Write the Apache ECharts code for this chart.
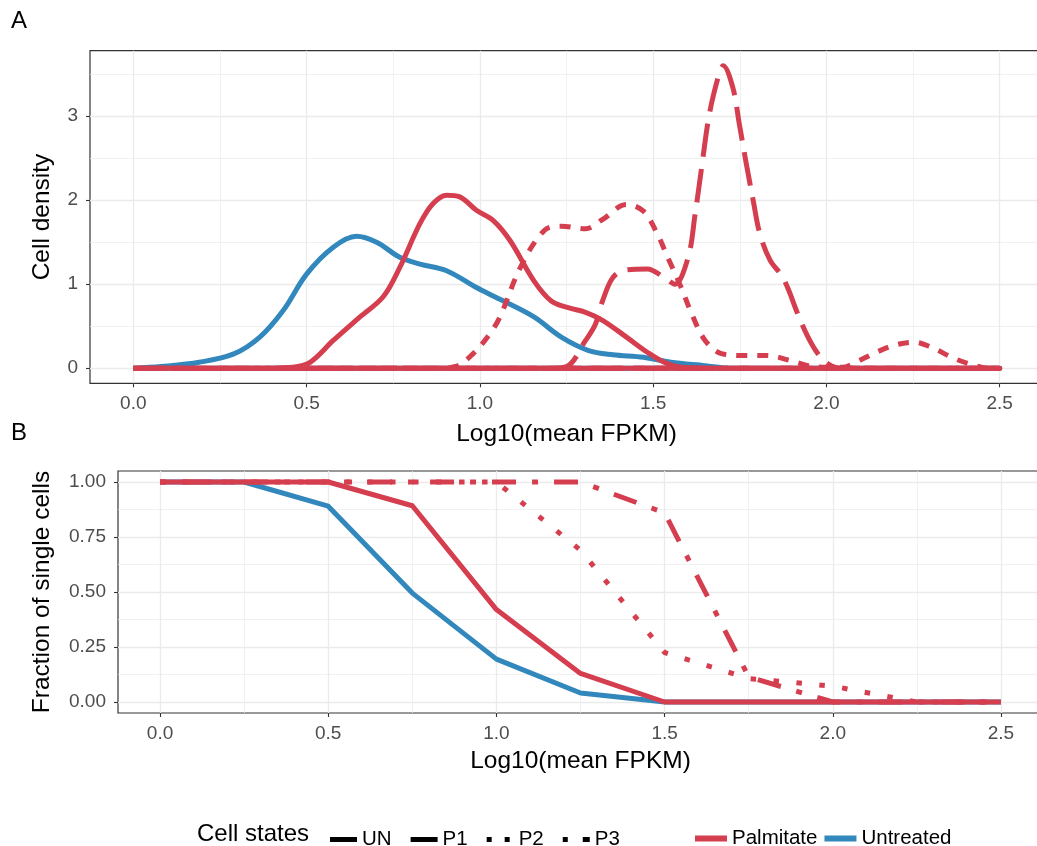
<!DOCTYPE html>
<html>
<head>
<meta charset="utf-8">
<script src="https://cdn.jsdelivr.net/npm/echarts@6/dist/echarts.min.js"></script>
<style>
  html, body { margin: 0; padding: 0; background: #ffffff; }
  #chart { width: 1037px; height: 846px; }
</style>
</head>
<body>
<div id="chart"></div>
<script>
// ---- Panel A: density of cells over log10(mean FPKM), per cell state ----
const densUntreatedUNx = [0, 0.08, 0.19, 0.29, 0.365, 0.433, 0.50, 0.577, 0.644, 0.702, 0.769, 0.827, 0.904, 0.99, 1.058, 1.156, 1.235, 1.314, 1.384, 1.472, 1.551, 1.65, 1.72, 1.8, 2.5];
const densUntreatedUNy = [0, 0.02, 0.07, 0.17, 0.37, 0.69, 1.12, 1.44, 1.57, 1.50, 1.32, 1.24, 1.16, 0.96, 0.82, 0.61, 0.37, 0.21, 0.16, 0.13, 0.07, 0.03, 0, 0, 0];

const densPalmitateP1x = [0, 0.40, 0.46, 0.51, 0.577, 0.654, 0.721, 0.769, 0.827, 0.865, 0.904, 0.942, 0.99, 1.038, 1.087, 1.156, 1.206, 1.255, 1.305, 1.354, 1.423, 1.483, 1.532, 1.581, 1.65, 2.5];
const densPalmitateP1y = [0, 0, 0.01, 0.07, 0.33, 0.61, 0.85, 1.20, 1.72, 1.96, 2.06, 2.04, 1.88, 1.76, 1.52, 1.04, 0.80, 0.72, 0.665, 0.57, 0.37, 0.19, 0.07, 0.01, 0, 0];

const densPalmitateP2x = [0, 0.88, 0.93, 0.98, 1.029, 1.058, 1.117, 1.186, 1.235, 1.305, 1.354, 1.423, 1.472, 1.512, 1.542, 1.581, 1.611, 1.65, 1.70, 1.769, 1.828, 1.897, 1.947, 2.0, 2.046, 2.075, 2.134, 2.194, 2.253, 2.302, 2.372, 2.431, 2.47, 2.5];
const densPalmitateP2y = [0, 0, 0.02, 0.17, 0.41, 0.61, 1.20, 1.64, 1.69, 1.66, 1.77, 1.95, 1.87, 1.60, 1.32, 0.96, 0.65, 0.33, 0.17, 0.15, 0.15, 0.09, 0.03, 0.01, 0.01, 0.05, 0.17, 0.27, 0.31, 0.25, 0.11, 0.03, 0, 0];

const densPalmitateP3x = [0, 1.20, 1.25, 1.305, 1.334, 1.354, 1.384, 1.423, 1.483, 1.532, 1.562, 1.601, 1.621, 1.64, 1.662, 1.69, 1.702, 1.73, 1.749, 1.769, 1.789, 1.808, 1.838, 1.868, 1.888, 1.917, 1.947, 1.976, 2.006, 2.04, 2.5];
const densPalmitateP3y = [0, 0, 0.02, 0.33, 0.53, 0.80, 1.08, 1.17, 1.18, 1.08, 1.00, 1.32, 1.83, 2.39, 3.02, 3.50, 3.60, 3.34, 2.90, 2.43, 1.99, 1.60, 1.28, 1.12, 0.96, 0.65, 0.37, 0.17, 0.05, 0, 0];

// ---- Panel B: fraction of single cells per log10(mean FPKM) bin ----
const fracBins = [0, 0.25, 0.5, 0.75, 1.0, 1.25, 1.5, 1.75, 2.0, 2.25, 2.5];
const fracUntreatedUN = [1, 1, 0.89, 0.495, 0.195, 0.041, 0, 0, 0, 0, 0];
const fracPalmitateP1 = [1, 1, 1, 0.892, 0.42, 0.13, 0, 0, 0, 0, 0];
const fracPalmitateP2 = [1, 1, 1, 1, 1, 0.69, 0.225, 0.107, 0.072, 0, 0];
const fracPalmitateP3 = [1, 1, 1, 1, 1, 1, 0.86, 0.114, 0, 0, 0];

// ---- Tick labels ----
const xMajorTicks = [0, 0.5, 1.0, 1.5, 2.0, 2.5];
const xMinorTicks = [0.25, 0.75, 1.25, 1.75, 2.25];
const densMajorTicks = [0, 1, 2, 3];
const densMinorTicks = [0.5, 1.5, 2.5, 3.5];
const fracMajorTicks = [0, 0.25, 0.5, 0.75, 1.0];
const fracMinorTicks = [0.125, 0.375, 0.625, 0.875];

// ---- Legend entries ----
const stateNames = ['UN', 'P1', 'P2', 'P3'];
const treatmentNames = ['Palmitate', 'Untreated'];

const FONT = '"Liberation Sans", Arial, Helvetica, sans-serif';
const RED = '#D53E4F';
const BLUE = '#3288BD';
const GRID_COL = '#EBEBEB';
const INK = '#333333';
const TICK_TXT = '#4D4D4D';

const pairs = (xs, ys) => xs.map((x, i) => [x, ys[i]]);
// density outline drawn as a closed shape: the curve, then back along the baseline
const outline = (xs, ys) => pairs(xs, ys).concat([[xs[0], 0]]);

function majorAxis(gridIndex, min, max, ticks, fmt, name, nameGap, isY) {
  return {
    type: 'value', gridIndex, min, max,
    position: isY ? 'left' : 'bottom',
    name, nameLocation: 'middle', nameGap,
    nameRotate: isY ? 90 : 0,
    nameTextStyle: { fontFamily: FONT, fontSize: 24.5, color: '#000000' },
    axisLine: { show: false, onZero: false },
    axisTick: { show: true, length: 4, customValues: ticks, lineStyle: { color: INK, width: 1.1 } },
    axisLabel: { show: true, customValues: ticks, formatter: fmt, margin: isY ? 12 : 11,
                 fontFamily: FONT, fontSize: 19, color: TICK_TXT },
    splitLine: { show: true, lineStyle: { color: GRID_COL, width: 1.3 } },
    minorTick: { show: false }, minorSplitLine: { show: false }
  };
}
function minorAxis(gridIndex, min, max, ticks, isY) {
  return {
    type: 'value', gridIndex, min, max,
    position: isY ? 'left' : 'bottom',
    axisLine: { show: false, onZero: false },
    axisTick: { show: false, customValues: ticks },
    axisLabel: { show: false },
    splitLine: { show: true, lineStyle: { color: GRID_COL, width: 0.7 } }
  };
}

const fmt1 = v => v.toFixed(1);
const fmt0 = v => v.toFixed(0);
const fmt2 = v => v.toFixed(2);

function curve(name, xi, yi, data, color, type, smooth) {
  return {
    name, type: 'line', xAxisIndex: xi, yAxisIndex: yi, data,
    smooth: smooth ? 0.35 : false, symbol: 'none', showSymbol: false,
    lineStyle: { color, width: 5, type, cap: 'butt', join: 'round' },
    itemStyle: { color }, silent: true, animation: false
  };
}
function legendOnly(name, color) {
  return { name, type: 'line', data: [], symbol: 'none', itemStyle: { color }, lineStyle: { color } };
}

const option = {
  backgroundColor: '#ffffff',
  animation: false,
  title: [
    { text: 'A', left: 11, top: 9, padding: 0, textStyle: { fontFamily: FONT, fontSize: 24, fontWeight: 'normal', color: '#000' } },
    { text: 'B', left: 11, top: 421, padding: 0, textStyle: { fontFamily: FONT, fontSize: 24, fontWeight: 'normal', color: '#000' } },
    { text: 'Cell states', left: 197, top: 822, padding: 0, textStyle: { fontFamily: FONT, fontSize: 24, fontWeight: 'normal', color: '#000' } }
  ],
  grid: [
    { left: 90, top: 50.7, width: 953, height: 332.6, show: true, borderColor: INK, borderWidth: 1.2,
      backgroundColor: 'transparent', containLabel: false, outerBoundsMode: 'none' },
    { left: 118, top: 471, width: 925, height: 242, show: true, borderColor: INK, borderWidth: 1.2,
      backgroundColor: 'transparent', containLabel: false, outerBoundsMode: 'none' }
  ],
  xAxis: [
    majorAxis(0, -0.125, 2.625, xMajorTicks, fmt1, 'Log10(mean FPKM)', 38, false),
    minorAxis(0, -0.125, 2.625, xMinorTicks, false),
    majorAxis(1, -0.125, 2.625, xMajorTicks, fmt1, 'Log10(mean FPKM)', 36, false),
    minorAxis(1, -0.125, 2.625, xMinorTicks, false)
  ],
  yAxis: [
    majorAxis(0, -0.18, 3.78, densMajorTicks, fmt0, 'Cell density', 35, true),
    minorAxis(0, -0.18, 3.78, densMinorTicks, true),
    majorAxis(1, -0.05, 1.05, fracMajorTicks, fmt2, 'Fraction of single cells', 63, true),
    minorAxis(1, -0.05, 1.05, fracMinorTicks, true)
  ],
  legend: [
    {
      left: 325, top: 824, orient: 'horizontal', selectedMode: false,
      itemWidth: 27, itemHeight: 5, itemGap: 19, symbolKeepAspect: false,
      textStyle: { fontFamily: FONT, fontSize: 20.5, color: '#000' },
      data: [
        { name: stateNames[0], icon: 'rect' },
        { name: stateNames[1], icon: 'rect' },
        { name: stateNames[2], icon: 'path://M0,0h5v5h-5zM18,0h5v5h-5zM27,5' },
        { name: stateNames[3], icon: 'path://M0,0h5v5h-5zM20,0h7v5h-7z' }
      ]
    },
    {
      left: 690, top: 823, orient: 'horizontal', selectedMode: false,
      itemWidth: 32, itemHeight: 6, itemGap: 7,
      textStyle: { fontFamily: FONT, fontSize: 20.5, color: '#000' },
      data: treatmentNames.map(n => ({ name: n, icon: 'rect' }))
    }
  ],
  series: [
    // panel A
    curve('Untreated UN', 0, 0, outline(densUntreatedUNx, densUntreatedUNy), BLUE, 'solid', true),
    curve('Palmitate P3', 0, 0, outline(densPalmitateP3x, densPalmitateP3y), RED, [34, 12], true),
    curve('Palmitate P2', 0, 0, outline(densPalmitateP2x, densPalmitateP2y), RED, [11, 10], true),
    curve('Palmitate P1', 0, 0, outline(densPalmitateP1x, densPalmitateP1y), RED, 'solid', true),
    // panel B
    curve('Untreated UN ', 2, 2, pairs(fracBins, fracUntreatedUN), BLUE, 'solid', false),
    curve('Palmitate P3 ', 2, 2, pairs(fracBins, fracPalmitateP3), RED, [6, 16, 24, 16], false),
    curve('Palmitate P2 ', 2, 2, pairs(fracBins, fracPalmitateP2), RED, [5.5, 17.5], false),
    curve('Palmitate P1 ', 2, 2, pairs(fracBins, fracPalmitateP1), RED, 'solid', false),
    // legend keys
    legendOnly(stateNames[0], '#000'),
    legendOnly(stateNames[1], '#000'),
    legendOnly(stateNames[2], '#000'),
    legendOnly(stateNames[3], '#000'),
    legendOnly(treatmentNames[0], RED),
    legendOnly(treatmentNames[1], BLUE)
  ]
};

const chart = echarts.init(document.getElementById('chart'), null, { renderer: 'canvas' });
chart.setOption(option);
</script>
</body>
</html>
